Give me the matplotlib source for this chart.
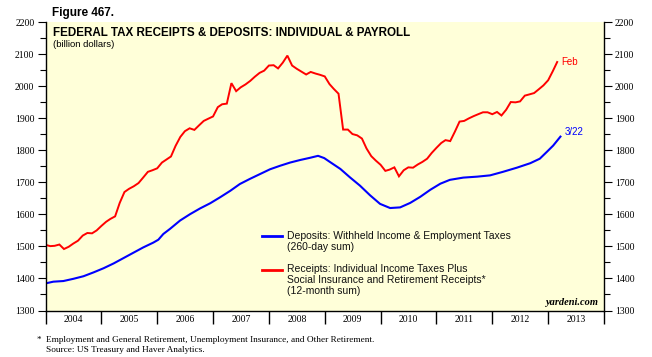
import matplotlib
matplotlib.use('Agg')
import matplotlib.pyplot as plt
import numpy as np
import pandas as pd
from matplotlib.ticker import MultipleLocator, FixedLocator, NullFormatter, FixedFormatter

# ---------------- data ----------------
red_months = pd.date_range('2003-12-31', '2013-02-28', freq='ME')
red_values = [1505, 1501, 1502, 1506, 1492, 1499, 1509, 1518, 1534, 1542, 1541, 1550, 1564,
              1577, 1586, 1594, 1636, 1670, 1680, 1688, 1698, 1715, 1733, 1738, 1744,
              1762, 1771, 1781, 1814, 1842, 1860, 1869, 1864, 1878, 1892, 1899, 1906,
              1935, 1944, 1946, 2010, 1985, 1997, 2006, 2017, 2030, 2042, 2049, 2065,
              2066, 2056, 2074, 2096, 2065, 2055, 2046, 2037, 2045, 2040, 2036, 2031,
              2007, 1992, 1977, 1865, 1865, 1851, 1847, 1837, 1806, 1782, 1768, 1755,
              1736, 1740, 1747, 1719, 1738, 1747, 1746, 1756, 1764, 1774, 1792, 1808,
              1823, 1832, 1829, 1858, 1890, 1892, 1900, 1907, 1913, 1919, 1919, 1913,
              1920, 1909, 1927, 1951, 1950, 1953, 1971, 1975, 1979, 1991, 2003, 2019,
              2048, 2076]

blue_dates = [2004.01, 2004.14, 2004.32, 2004.50, 2004.68, 2004.86, 2005.04, 2005.22,
              2005.40, 2005.58, 2005.75, 2005.93, 2006.02, 2006.11, 2006.23, 2006.41,
              2006.59, 2006.77, 2006.95, 2007.13, 2007.31, 2007.48, 2007.66, 2007.84,
              2008.02, 2008.20, 2008.38, 2008.56, 2008.74, 2008.88, 2008.99, 2009.10,
              2009.28, 2009.45, 2009.63, 2009.81, 2009.99, 2010.17, 2010.35, 2010.53,
              2010.71, 2010.89, 2011.07, 2011.24, 2011.48, 2011.73, 2011.96, 2012.19,
              2012.44, 2012.68, 2012.85, 2012.98, 2013.09, 2013.22]
blue_values = [1385, 1390, 1392, 1399, 1407, 1419, 1432, 1447, 1464, 1481, 1497, 1512,
               1521, 1539, 1555, 1581, 1601, 1619, 1635, 1654, 1674, 1695, 1711, 1726,
               1741, 1752, 1762, 1770, 1777, 1783, 1776, 1763, 1742, 1716, 1690, 1660,
               1633, 1620, 1622, 1636, 1655, 1677, 1696, 1708, 1715, 1718, 1722, 1733,
               1746, 1760, 1774, 1796, 1815, 1843]

years = list(range(2004, 2014))
y_ticks = list(range(1300, 2201, 100))

# ---------------- figure ----------------
W, H = 652, 357
fig = plt.figure(figsize=(W / 100, H / 100), dpi=100)
L, R, T, B = 45.5, 604, 22.3, 310.5
ax = fig.add_axes([L / W, 1 - B / H, (R - L) / W, (B - T) / H])
ax.set_facecolor('#FFFFD9')

def dec_year(d):
    return d.year + d.dayofyear / (366 if d.is_leap_year else 365)

red_x = [dec_year(d) for d in red_months]
ax.plot(red_x, red_values, color='#FF0000', lw=1.4, solid_joinstyle='miter')
ax.plot(blue_dates, blue_values, color='#0000FF', lw=1.5)

ax.set_xlim(2004, 2014)
ax.set_ylim(1300, 2200)

serif = 'Liberation Serif'
sans = 'Liberation Sans'

# y axes
ax.yaxis.set_major_locator(FixedLocator(y_ticks))
ax.yaxis.set_minor_locator(MultipleLocator(50))
ax.tick_params(axis='y', which='major', direction='out', length=6, width=0.8,
               labelsize=7, left=True, right=True, labelleft=True, labelright=True, pad=2)
ax.tick_params(axis='y', which='minor', direction='out', length=4, width=0.8,
               left=True, right=True)
for lab in ax.get_yticklabels():
    lab.set_fontfamily(serif)

# x axis: ticks at year boundaries, labels centred in the year
ax.xaxis.set_major_locator(FixedLocator(years + [2014]))
ax.xaxis.set_major_formatter(NullFormatter())
ax.xaxis.set_minor_locator(FixedLocator([y + 0.5 for y in years]))
ax.xaxis.set_minor_formatter(FixedFormatter([str(y) for y in years]))
ax.tick_params(axis='x', which='major', direction='out', length=9, width=1.0)
ax.tick_params(axis='x', which='minor', length=0, labelsize=7, pad=3)
for lab in ax.get_xticklabels(minor=True):
    lab.set_fontfamily(serif)

for s in ['left', 'right', 'bottom']:
    ax.spines[s].set_linewidth(1.0)
ax.spines['top'].set_visible(False)

# titles
fig.text(52 / W, 1 - 7 / H, 'Figure 467.', fontsize=8.5, fontweight='bold',
         family=sans, va='top', ha='left')
ax.text(0.013, 0.983, 'FEDERAL TAX RECEIPTS & DEPOSITS: INDIVIDUAL & PAYROLL',
        transform=ax.transAxes, fontsize=8.4, fontweight='bold', family=sans,
        va='top', ha='left')
ax.text(0.013, 0.94, '(billion dollars)', transform=ax.transAxes, fontsize=6.8,
        family=sans, va='top', ha='left')

# legend (manual, first-line aligned handles)
ax.plot([0.388, 0.4235], [0.2568, 0.2568], transform=ax.transAxes, color='#0000FF', lw=2)
ax.text(0.433, 0.2568 + 0.02, 'Deposits: Withheld Income & Employment Taxes\n(260-day sum)',
        transform=ax.transAxes, fontsize=7.5, family=sans, va='top', ha='left',
        linespacing=1.12, color='#111111')
ax.plot([0.388, 0.4235], [0.1405, 0.1405], transform=ax.transAxes, color='#FF0000', lw=2)
ax.text(0.433, 0.1405 + 0.02,
        'Receipts: Individual Income Taxes Plus\nSocial Insurance and Retirement Receipts*\n(12-month sum)',
        transform=ax.transAxes, fontsize=7.5, family=sans, va='top', ha='left',
        linespacing=1.12, color='#111111')

# end annotations
ax.annotate('Feb', xy=(red_x[-1], red_values[-1]), xytext=(3, 0), textcoords='offset points',
            color='#FF0000', fontsize=7, family=sans, va='center', ha='left')
ax.annotate('3/22', xy=(blue_dates[-1], blue_values[-1]), xytext=(3, 3), textcoords='offset points',
            color='#0000FF', fontsize=7, family=sans, va='center', ha='left')

ax.text(0.99, 0.012, 'yardeni.com', transform=ax.transAxes, fontsize=7.5,
        family=serif, style='italic', fontweight='bold', ha='right', va='bottom')

# footnotes
fig.text(37 / W, 1 - 340 / H, '*', fontsize=6.6, family=serif, va='center', ha='left')
fig.text(46 / W, 1 - 340 / H,
         'Employment and General Retirement, Unemployment Insurance, and Other Retirement.',
         fontsize=6.65, family=serif, va='center', ha='left')
fig.text(46 / W, 1 - 349.5 / H, 'Source: US Treasury and Haver Analytics.',
         fontsize=6.65, family=serif, va='center', ha='left')

fig.savefig('out.png', dpi=100, facecolor='white')
